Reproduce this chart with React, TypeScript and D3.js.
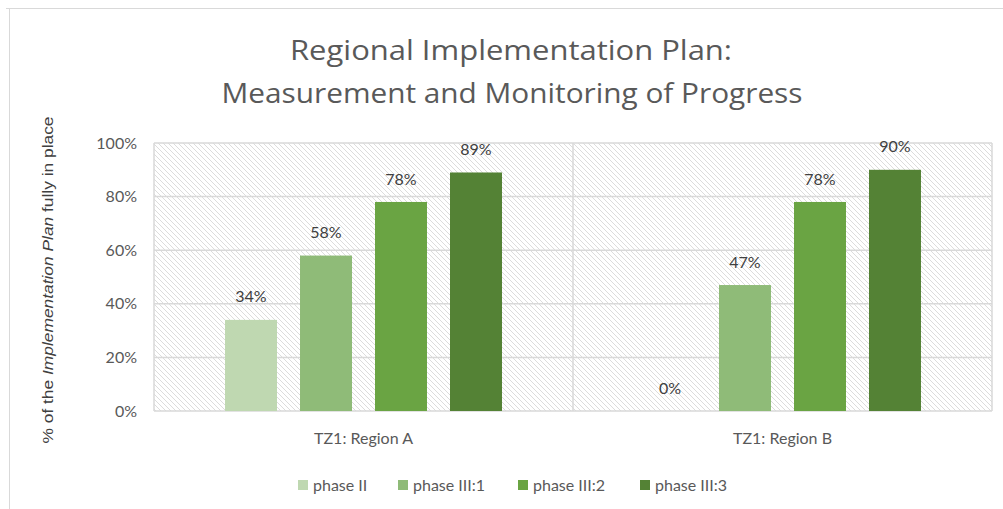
import React from "react";
import * as d3 from "d3";

const categories = ["TZ1: Region A", "TZ1: Region B"];
const seriesNames = ["phase II", "phase III:1", "phase III:2", "phase III:3"];
const phaseII = [34, 0];
const phaseIII1 = [58, 47];
const phaseIII2 = [78, 78];
const phaseIII3 = [89, 90];
const seriesValues = [phaseII, phaseIII1, phaseIII2, phaseIII3];
const seriesColors = ["#bfd8b1", "#8fbb78", "#6aa443", "#548235"];
const yTicks = [0, 20, 40, 60, 80, 100];

const W = 1003;
const H = 509;
const plot = { left: 154, right: 992, top: 143, bottom: 411 };
const FONT = "Lato, 'Open Sans', sans-serif";
const TXT = "#595959";

export default function App() {
  const x0 = d3.scaleBand<string>().domain(categories).range([plot.left, plot.right]).padding(0);
  const x1 = d3
    .scaleBand<string>()
    .domain(seriesNames)
    .range([0, x0.bandwidth()])
    .paddingInner(0.307)
    .paddingOuter(0.947);
  const y = d3.scaleLinear().domain([0, 100]).range([plot.bottom, plot.top]);

  const legendX = [298, 398, 518, 640];

  return (
    <svg
      width={W}
      height={H}
      style={{ position: "absolute", left: 0, top: 0, background: "#fff" }}
    >
      <defs>
        <pattern id="hatch" width="5" height="5" patternUnits="userSpaceOnUse">
          <rect width="5" height="5" fill="#ffffff" />
          <path d="M-1,-1 L6,6 M-1,4 L1,6 M4,-1 L6,1" stroke="#dcdcdc" strokeWidth="1" />
        </pattern>
      </defs>
      {/* chart frame */}
      <line x1={6} x2={W} y1={8.5} y2={8.5} stroke="#d9d9d9" strokeWidth={1} />
      <line x1={9.5} x2={9.5} y1={8} y2={H} stroke="#d9d9d9" strokeWidth={1} />

      {/* title */}
      <text
        x={511}
        y={60}
        textAnchor="middle"
        fontFamily="'Open Sans', sans-serif"
        fontWeight={400}
        fontSize={28}
        fill={TXT}
        textLength={442}
        lengthAdjust="spacingAndGlyphs"
      >
        Regional Implementation Plan:
      </text>
      <text
        x={512}
        y={103}
        textAnchor="middle"
        fontFamily="'Open Sans', sans-serif"
        fontWeight={400}
        fontSize={28}
        fill={TXT}
        textLength={581}
        lengthAdjust="spacingAndGlyphs"
      >
        Measurement and Monitoring of Progress
      </text>

      {/* plot background */}
      <rect
        x={plot.left}
        y={plot.top}
        width={plot.right - plot.left}
        height={plot.bottom - plot.top}
        fill="url(#hatch)"
      />
      {/* gridlines */}
      {yTicks.map((t) => (
        <line
          key={t}
          x1={plot.left}
          x2={plot.right}
          y1={y(t)}
          y2={y(t)}
          stroke="#d9d9d9"
          strokeWidth={1.5}
        />
      ))}
      {/* vertical gridlines */}
      {[plot.left, (x0(categories[1]) as number), plot.right].map((vx, i) => (
        <line key={i} x1={vx} x2={vx} y1={plot.top} y2={plot.bottom} stroke="#d9d9d9" strokeWidth={1.5} />
      ))}

      {/* y tick labels */}
      {yTicks.map((t) => (
        <text
          key={t}
          x={137}
          y={y(t)}
          dy="0.35em"
          textAnchor="end"
          fontFamily={FONT}
          fontSize={16}
          fill={TXT}
        >
          {t}%
        </text>
      ))}

      {/* y axis title */}
      <text
        transform={`translate(53,${280}) rotate(-90)`}
        textAnchor="middle"
        fontFamily="'Liberation Sans', Arial, sans-serif"
        fontSize={15}
        fill="#404040"
        textLength={327}
        lengthAdjust="spacingAndGlyphs"
      >
        % of the <tspan fontStyle="italic">Implementation Plan</tspan> fully in place
      </text>

      {/* bars */}
      {categories.map((c, ci) =>
        seriesNames.map((s, si) => {
          const v = seriesValues[si][ci];
          const bx = (x0(c) as number) + (x1(s) as number);
          const bw = x1.bandwidth();
          return (
            <g key={c + s}>
              <rect x={bx} y={y(v)} width={bw} height={y(0) - y(v)} fill={seriesColors[si]} />
              <text
                x={bx + bw / 2}
                y={y(v) - 23}
                dy="0.35em"
                textAnchor="middle"
                fontFamily={FONT}
                fontSize={16}
                fill="#404040"
              >
                {v}%
              </text>
            </g>
          );
        })
      )}

      {/* category labels */}
      {categories.map((c) => (
        <text
          key={c}
          x={(x0(c) as number) + x0.bandwidth() / 2}
          y={438}
          dy="0.35em"
          textAnchor="middle"
          fontFamily={FONT}
          fontSize={16}
          fill={TXT}
        >
          {c}
        </text>
      ))}

      {/* legend */}
      {seriesNames.map((s, i) => (
        <g key={s}>
          <rect x={legendX[i]} y={480} width={10} height={10} fill={seriesColors[i]} />
          <text
            x={legendX[i] + 15}
            y={485}
            dy="0.35em"
            fontFamily={FONT}
            fontSize={16}
            fill={TXT}
          >
            {s}
          </text>
        </g>
      ))}
    </svg>
  );
}
